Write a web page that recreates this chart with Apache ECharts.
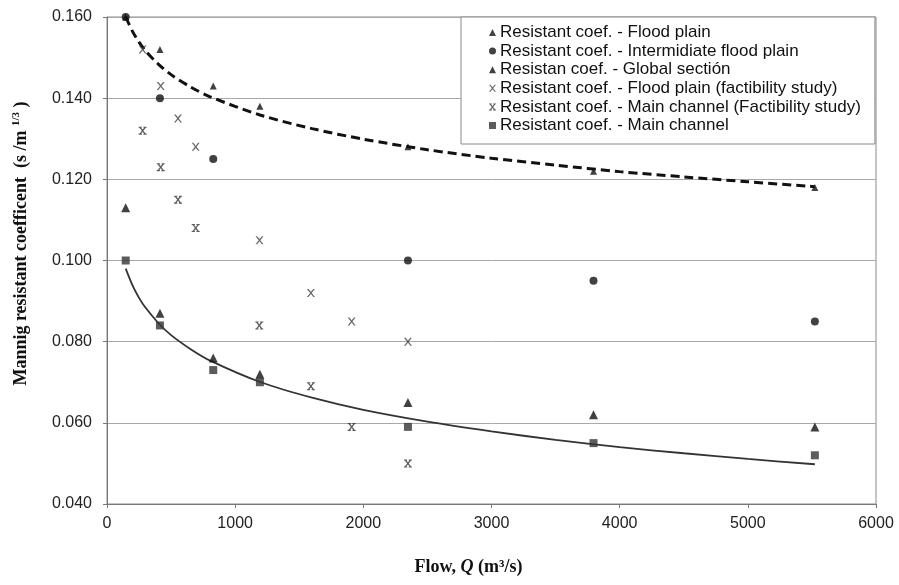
<!DOCTYPE html>
<html>
<head>
<meta charset="utf-8">
<script src="https://cdn.jsdelivr.net/npm/echarts@6/dist/echarts.min.js"></script>
<style>
  html, body { margin: 0; padding: 0; background: #fff; }
  #chart { width: 899px; height: 585px; }
</style>
</head>
<body>
<div id="chart"></div>
<script>
// flows (m3/s) and resistant coefficients
const floodPlain = [[146, 0.160], [413, 0.152], [829, 0.143], [1193, 0.138], [2348, 0.128], [3796, 0.122], [5523, 0.118]];
const intermediate = [[146, 0.160], [413, 0.140], [829, 0.125], [2348, 0.100], [3796, 0.095], [5523, 0.085]];
const globalSection = [[146, 0.113], [413, 0.087], [829, 0.076], [1193, 0.072], [2348, 0.065], [3796, 0.062], [5523, 0.059]];
const floodPlainStudy = [[278, 0.152], [419, 0.143], [554, 0.135], [692, 0.128], [1190, 0.105], [1591, 0.092], [1909, 0.085], [2348, 0.080]];
const mainChannelStudy = [[278, 0.132], [419, 0.123], [554, 0.115], [692, 0.108], [1188, 0.084], [1591, 0.069], [1909, 0.059], [2348, 0.050]];
const mainChannel = [[146, 0.100], [413, 0.084], [829, 0.073], [1193, 0.070], [2348, 0.059], [3796, 0.055], [5523, 0.052]];

// trend curves, points
const trendUpper = [[146, 0.160], [200, 0.1564], [250, 0.1538], [300, 0.1517], [400, 0.1484], [500, 0.1458], [650, 0.1428], [800, 0.1404], [1200, 0.1358], [1600, 0.1325], [2000, 0.1299], [2500, 0.1273], [3000, 0.1252], [3500, 0.1235], [4000, 0.1219], [4500, 0.1206], [5000, 0.1194], [5523, 0.1182]];
const trendLower = [[146, 0.098], [200, 0.0938], [250, 0.0908], [300, 0.0884], [400, 0.0846], [500, 0.0816], [650, 0.0782], [800, 0.0754], [1200, 0.0700], [1600, 0.0662], [2000, 0.0632], [2500, 0.0603], [3000, 0.0579], [3500, 0.0558], [4000, 0.0540], [4500, 0.0525], [5000, 0.0511], [5523, 0.0498]];

const xTicks = [0, 1000, 2000, 3000, 4000, 5000, 6000];
const yTicks = [0.04, 0.06, 0.08, 0.10, 0.12, 0.14, 0.16];

const names = [
  'Resistant coef. - Flood plain',
  'Resistant coef. - Intermidiate flood plain',
  'Resistan coef. - Global sectión',
  'Resistant coef. - Flood plain (factibility study)',
  'Resistant coef. - Main channel (Factibility study)',
  'Resistant coef. - Main channel'
];

const crossPath = 'path://M0,0 L2,0 L5,3.6 L8,0 L10,0 L6,5 L10,10 L8,10 L5,6.4 L2,10 L0,10 L4,5 Z';
const barCrossPath = 'path://M0,0 L2,0 L5,3.6 L8,0 L10,0 L6,5 L10,10 L8,10 L5,6.4 L2,10 L0,10 L4,5 Z M0,0 L4,0 L4,1.3 L0,1.3 Z M6,0 L10,0 L10,1.3 L6,1.3 Z M0,8.7 L4,8.7 L4,10 L0,10 Z M6,8.7 L10,8.7 L10,10 L6,10 Z';

const chart = echarts.init(document.getElementById('chart'));

const scatter = (name, data, symbol, size, color) => ({
  name: name,
  type: 'scatter',
  data: data,
  symbol: symbol,
  symbolSize: size,
  itemStyle: { color: color },
  z: 5
});

chart.setOption({
  animation: false,
  backgroundColor: '#fff',
  grid: {
    left: 107, right: 23, top: 17, bottom: 81,
    show: true, borderColor: '#8a8a8a', borderWidth: 1
  },
  legend: {
    data: names.map((n, i) => ({
      name: n,
      icon: ['triangle', 'circle', 'triangle', crossPath, barCrossPath, 'rect'][i]
    })),
    orient: 'vertical',
    left: 461,
    top: 17,
    padding: [7, 14, 10, 28],
    itemWidth: 7,
    itemHeight: 7,
    itemGap: 1.6,
    backgroundColor: '#fff',
    borderColor: '#8a8a8a',
    borderWidth: 1,
    textStyle: { fontFamily: 'Liberation Sans', fontSize: 17, color: '#111', lineHeight: 17, padding: [0, 0, 0, -1] }
  },
  xAxis: {
    type: 'value',
    min: xTicks[0],
    max: xTicks[xTicks.length - 1],
    interval: 1000,
    splitLine: { show: false },
    axisLine: { lineStyle: { color: '#777', width: 1 } },
    axisTick: { show: true, length: 4, lineStyle: { color: '#777' } },
    axisLabel: { fontFamily: 'Liberation Sans', fontSize: 16, color: '#222', margin: 12, formatter: v => String(v) },
    name: '{b|Flow, }{i|Q}{b| (m³/s)}',
    nameLocation: 'middle',
    nameGap: 54,
    nameTextStyle: {
      padding: [0, 46, 0, 0],
      rich: {
        b: { fontFamily: 'Liberation Serif', fontWeight: 'bold', fontSize: 18, color: '#111' },
        i: { fontFamily: 'Liberation Serif', fontWeight: 'bold', fontStyle: 'italic', fontSize: 18, color: '#111' }
      }
    }
  },
  yAxis: {
    type: 'value',
    min: yTicks[0],
    max: yTicks[yTicks.length - 1],
    interval: 0.02,
    splitLine: { show: true, lineStyle: { color: '#a8a8a8', width: 1 } },
    axisLine: { show: true, lineStyle: { color: '#777', width: 1 } },
    axisTick: { show: true, length: 4, lineStyle: { color: '#777' } },
    axisLabel: {
      fontFamily: 'Liberation Sans', fontSize: 16, color: '#222', margin: 15,
      formatter: v => v.toFixed(3)
    },
    name: '{b|Mannig resistant coefficent  (s /m }{s|1/3}{b| )}',
    nameLocation: 'middle',
    nameGap: 76,
    nameRotate: 90,
    nameTextStyle: {
      padding: [0, 0, 0, 34],
      rich: {
        b: { fontFamily: 'Liberation Serif', fontWeight: 'bold', fontSize: 18, color: '#111' },
        s: { fontFamily: 'Liberation Serif', fontWeight: 'bold', fontSize: 11, color: '#111', padding: [0, 0, 9, 0] }
      }
    }
  },
  series: [
    {
      name: 'trend upper',
      type: 'line',
      data: trendUpper,
      smooth: 0.3,
      showSymbol: false,
      lineStyle: { color: '#111', width: 3, type: [9, 5] },
      z: 3
    },
    {
      name: 'trend lower',
      type: 'line',
      data: trendLower,
      smooth: 0.3,
      showSymbol: false,
      lineStyle: { color: '#333', width: 1.8 },
      z: 3
    },
    scatter(names[0], floodPlain, 'triangle', 7, '#111'),
    scatter(names[1], intermediate, 'circle', 8, '#111'),
    scatter(names[2], globalSection, 'triangle', 9, '#111'),
    scatter(names[3], floodPlainStudy, crossPath, 8, '#444'),
    scatter(names[4], mainChannelStudy, barCrossPath, 8, '#333'),
    scatter(names[5], mainChannel, 'rect', 8, '#333')
  ]
});
</script>
</body>
</html>
